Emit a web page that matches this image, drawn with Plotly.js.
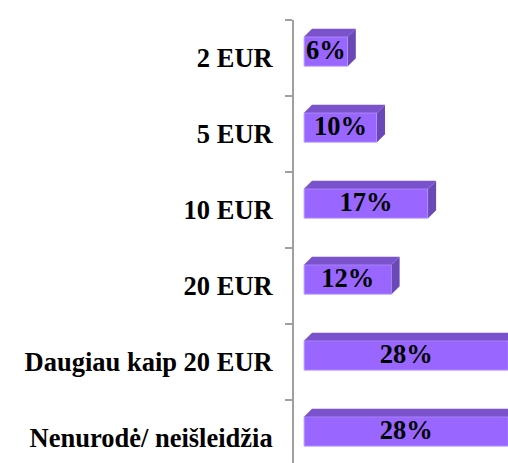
<!DOCTYPE html>
<html>
<head>
<meta charset="utf-8">
<script src="https://cdn.plot.ly/plotly-3.0.1.min.js"></script>
<style>html,body{margin:0;padding:0;background:#fff;}#chart{width:508px;height:463px;}</style>
</head>
<body>
<div id="chart"></div>
<script>
// Data
var categories = ['2 EUR', '5 EUR', '10 EUR', '20 EUR', 'Daugiau kaip 20 EUR', 'Nenurodė/ neišleidžia'];
var values = [6, 10, 17, 12, 28, 28];
var valueLabels = ['6%', '10%', '17%', '12%', '28%', '28%'];

// Geometry of the pseudo-3D boxes (axis units)
var BAR_OFFSET = -0.28, BAR_WIDTH = 0.39;
var DEPTH_X = 1.1, DEPTH_Y = 0.105;
var FRONT = '#9966FF', TOP = '#7A52CC', SIDE = '#6A48B8';

var pos = categories.map(function (c, i) { return i; });
var boundaries = [];
for (var k = 0; k <= categories.length; k++) boundaries.push(k - 0.5);

var shapes = [];
values.forEach(function (v, i) {
  var yt = i + BAR_OFFSET, yb = i + BAR_OFFSET + BAR_WIDTH;
  // top face
  shapes.push({
    type: 'path', xref: 'x', yref: 'y', layer: 'above',
    path: 'M 0,' + yt + ' L ' + v + ',' + yt + ' L ' + (v + DEPTH_X) + ',' + (yt - DEPTH_Y) +
          ' L ' + DEPTH_X + ',' + (yt - DEPTH_Y) + ' Z',
    fillcolor: TOP, line: {width: 0}
  });
  // right face
  shapes.push({
    type: 'path', xref: 'x', yref: 'y', layer: 'above',
    path: 'M ' + v + ',' + yt + ' L ' + (v + DEPTH_X) + ',' + (yt - DEPTH_Y) +
          ' L ' + (v + DEPTH_X) + ',' + (yb - DEPTH_Y) + ' L ' + v + ',' + yb + ' Z',
    fillcolor: SIDE, line: {width: 0}
  });
});

var bars = {
  type: 'bar', orientation: 'h',
  x: values, y: pos,
  width: BAR_WIDTH, offset: BAR_OFFSET,
  marker: {color: FRONT, line: {color: '#C9B5FF', width: 1}},
  hoverinfo: 'none', showlegend: false
};

var labels = {
  type: 'scatter', mode: 'text',
  x: values.map(function (v) { return v / 2; }),
  y: pos.map(function (p) { return p + BAR_OFFSET + BAR_WIDTH / 2 + 0.01; }),
  text: valueLabels,
  textposition: 'middle center',
  textfont: {family: 'Liberation Serif, Times New Roman, serif', size: 26.5, color: '#000', weight: 'bold'},
  hoverinfo: 'none', showlegend: false, cliponaxis: false
};

var layout = {
  width: 508, height: 463,
  margin: {l: 294, r: 0, t: 20, b: 0, pad: 0},
  paper_bgcolor: '#fff', plot_bgcolor: '#fff',
  showlegend: false,
  xaxis: {range: [-1.37, 27.95], visible: false, showgrid: false, zeroline: false, fixedrange: true},
  yaxis: {
    type: 'linear', range: [5.33, -0.5],
    tickmode: 'array', tickvals: pos, ticktext: categories,
    ticks: '', showgrid: false, zeroline: false,
    showline: true, linecolor: '#A0A0A0', linewidth: 2,
    ticklabelstandoff: 14,
    tickfont: {family: 'Liberation Serif, Times New Roman, serif', size: 26.5, color: '#000', weight: 'bold'},
    minor: {tickmode: 'array', tickvals: boundaries, ticks: 'outside', ticklen: 7, tickwidth: 2, tickcolor: '#A0A0A0', showgrid: false},
    fixedrange: true
  },
  shapes: shapes
};

Plotly.newPlot('chart', [bars, labels], layout, {staticPlot: true, displayModeBar: false});
</script>
</body>
</html>
